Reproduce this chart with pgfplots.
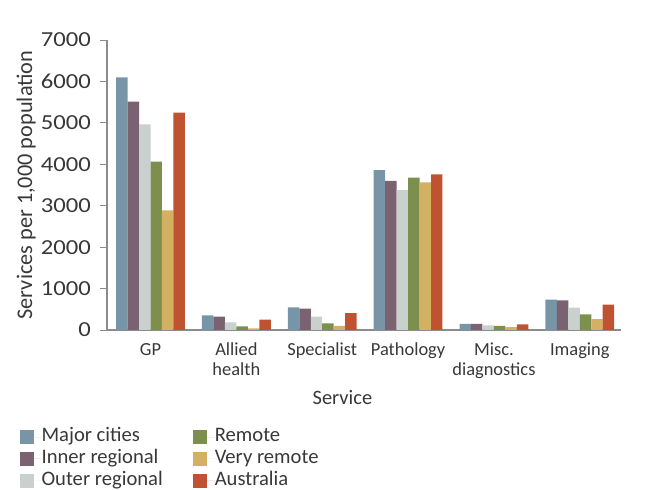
\documentclass[border=0pt]{standalone}
\usepackage{pgfplots}
\pgfplotsset{compat=1.18}
\usepackage{fontspec}
\setmainfont{Carlito}
\definecolor{cMajor}{HTML}{7895A8}
\definecolor{cInner}{HTML}{7B6270}
\definecolor{cOuter}{HTML}{C9D1CF}
\definecolor{cRemote}{HTML}{7D8F4F}
\definecolor{cVery}{HTML}{D4B062}
\definecolor{cAus}{HTML}{BF5230}
\definecolor{axgray}{HTML}{8C8C8C}
\definecolor{txt}{HTML}{383838}
\begin{document}
\begin{tikzpicture}
\path[use as bounding box] (0,0) rectangle (646bp,490bp);
\begin{axis}[
  at={(107bp,160bp)}, anchor=south west,
  scale only axis, width=514bp, height=290bp,
  ybar=0pt, bar width=11.47bp,
  xmin=-0.507, xmax=5.48,
  ymin=0, ymax=7000,
  ytick={0,1000,...,7000},
  xtick={0,1,2,3,4,5},
  xticklabels={GP,{Allied\\health},Specialist,Pathology,{Misc.\\diagnostics},Imaging},
  axis x line*=bottom, axis y line*=left,
  axis line style={draw=axgray, line width=1.1bp},
  major x tick style={draw=none},
  major y tick style={draw=axgray, line width=1bp},
  tick align=outside, major tick length=7bp,
  /pgf/number format/assume math mode=true,
  /pgf/number format/1000 sep={},
  yticklabel={\scalebox{1.15}[1]{\pgfmathprintnumber{\tick}}},
  yticklabel style={font=\fontsize{21.5}{24}\selectfont, text=txt, inner sep=0pt, xshift=-9bp},
  xticklabel style={font=\fontsize{18.5}{20}\selectfont, text=txt, align=center, inner sep=0pt, anchor=north, yshift=-6bp},
  ylabel={Services per 1,000 population},
  ylabel style={font=\fontsize{22.4}{24}\selectfont, text=txt, at={(axis description cs:-0.1456,0.5)}, rotate=0, anchor=base},
  xlabel={Service},
  xlabel style={font=\fontsize{20.5}{24}\selectfont, text=txt, at={(axis description cs:0.458,-0.2586)}, anchor=base},
  legend columns=3, transpose legend,
  legend image code/.code={\fill[#1] (0bp,-7bp) rectangle (14bp,7bp); \path (0bp,0bp) -- (22bp,0bp);},
  legend style={at={(axis description cs:-0.1705,-0.337)}, anchor=north west, draw=none, fill=none, inner sep=0pt,
    font=\fontsize{20.7}{24}\selectfont, text=txt,
    nodes={inner sep=0pt, text height=14bp, text depth=4.5bp},
    row sep=3.2bp,
    /tikz/every even column/.append style={column sep=30bp}},
  legend cell align=left,
]
\addplot[fill=cMajor, draw=none] coordinates {(0,6100) (1,355) (2,548) (3,3862) (4,145) (5,731)};
\addplot[fill=cInner, draw=none] coordinates {(0,5510) (1,321) (2,514) (3,3597) (4,145) (5,716)};
\addplot[fill=cOuter, draw=none] coordinates {(0,4965) (1,186) (2,321) (3,3379) (4,113) (5,538)};
\addplot[fill=cRemote, draw=none] coordinates {(0,4063) (1,89) (2,162) (3,3677) (4,97) (5,378)};
\addplot[fill=cVery, draw=none] coordinates {(0,2890) (1,40) (2,97) (3,3565) (4,72) (5,265)};
\addplot[fill=cAus, draw=none] coordinates {(0,5245) (1,249) (2,410) (3,3758) (4,137) (5,611)};
\legend{Major cities,Inner regional,Outer regional,Remote,Very remote,Australia}
\end{axis}
\end{tikzpicture}
\end{document}
